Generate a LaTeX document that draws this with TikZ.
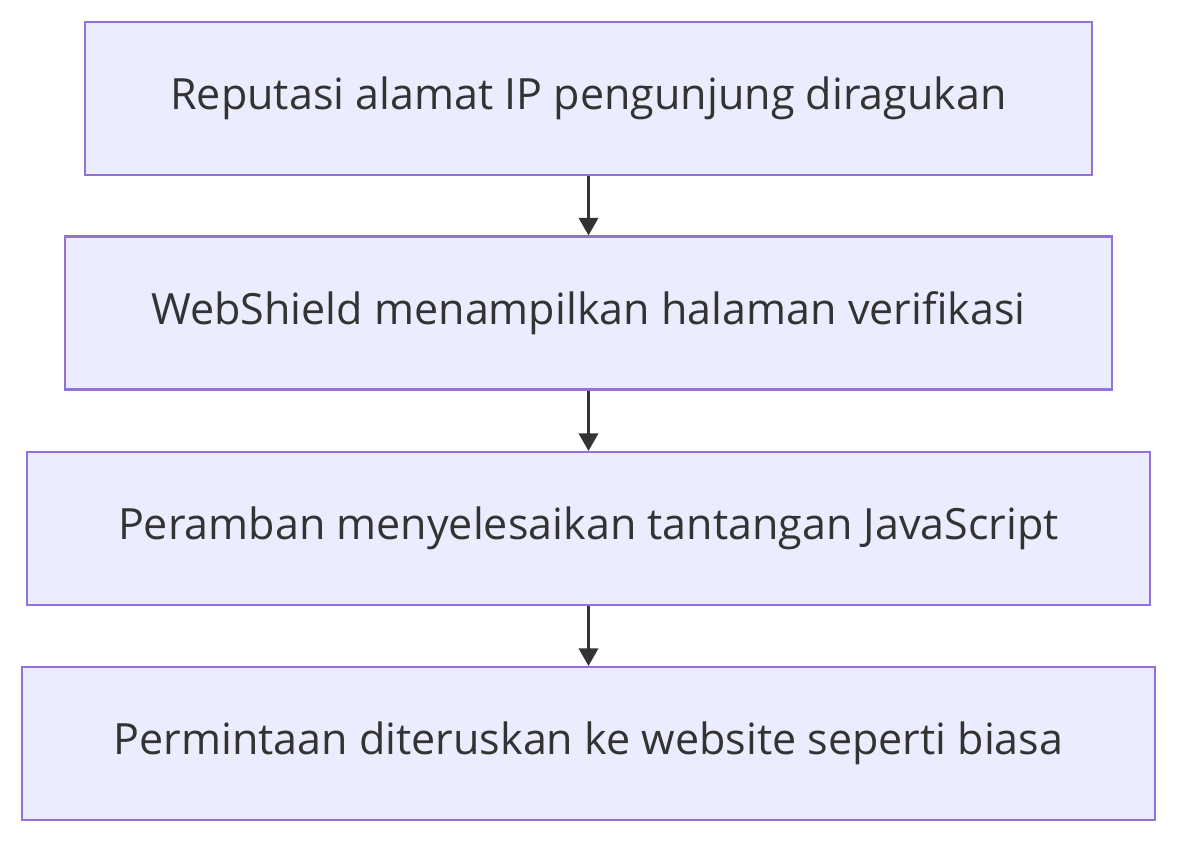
\documentclass[tikz,border=0pt]{standalone}
\usepackage{fontspec}
\setmainfont{Open Sans}
\usetikzlibrary{arrows.meta}
\definecolor{boxfill}{HTML}{ECECFF}
\definecolor{boxline}{HTML}{9370DB}
\definecolor{arrowgray}{HTML}{333333}
\tikzset{
  flowstep/.style={draw=boxline, fill=boxfill, line width=1.2pt, minimum height=3.06cm,
    inner sep=0pt, text=arrowgray, font=\fontsize{24.5}{29}\selectfont},
  flow/.style={draw=arrowgray, line width=1.4pt, -{Triangle[length=10pt,width=11pt]}}
}
\begin{document}
\begin{tikzpicture}[x=0.02cm, y=-0.02cm]
  \useasboundingbox (0,0) rectangle (1200,858);
  % steps
  \node[flowstep, minimum width=20.14cm] (ip) at (588.5,98.5) {Reputasi alamat IP pengunjung diragukan};
  \node[flowstep, minimum width=20.94cm] (verif) at (588.5,313) {WebShield menampilkan halaman verifikasi};
  \node[flowstep, minimum width=22.46cm] (js) at (588.5,528.5) {Peramban menyelesaikan tantangan JavaScript};
  \node[flowstep, minimum width=22.66cm] (pass) at (588.5,743.5) {Permintaan diteruskan ke website seperti biasa};
  % arrows
  \draw[flow] (ip) -- (verif);
  \draw[flow] (verif) -- (js);
  \draw[flow] (js) -- (pass);
\end{tikzpicture}
\end{document}
